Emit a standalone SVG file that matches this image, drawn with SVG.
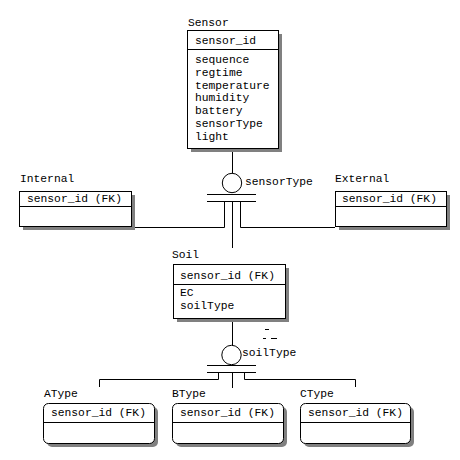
<svg xmlns="http://www.w3.org/2000/svg" width="460" height="460" viewBox="0 0 460 460">
<style>
text{font-family:"Liberation Mono","DejaVu Sans Mono",monospace;font-size:11.3px;fill:#000}
.box{fill:#fff;stroke:#000;stroke-width:1}
.sh{fill:#808080;stroke:none}
.ln{stroke:#000;stroke-width:1;fill:none}
</style>
<rect width="460" height="460" fill="#fff"/>
<g id="connectors">
<line class="ln" x1="232.5" y1="148" x2="232.5" y2="173"/>
<circle class="ln" cx="232" cy="183" r="9.7"/>
<line class="ln" x1="207" y1="194.5" x2="256" y2="194.5"/>
<line class="ln" x1="207" y1="201.5" x2="256" y2="201.5"/>
<polyline class="ln" points="224.5,202 224.5,227.5 131,227.5"/>
<polyline class="ln" points="240.5,202 240.5,227.5 335,227.5"/>
<line class="ln" x1="232.5" y1="202" x2="232.5" y2="248"/>
<line class="ln" x1="232.5" y1="318" x2="232.5" y2="345"/>
<circle class="ln" cx="231.5" cy="355" r="9.7"/>
<line class="ln" x1="207" y1="365.5" x2="256" y2="365.5"/>
<line class="ln" x1="207" y1="372.5" x2="256" y2="372.5"/>
<polyline class="ln" points="218.5,373 218.5,379.5 99.5,379.5 99.5,387"/>
<polyline class="ln" points="244.5,373 244.5,379.5 355.5,379.5 355.5,387"/>
<line class="ln" x1="232.5" y1="373" x2="232.5" y2="388"/>
<text x="245" y="185">sensorType</text>
<text x="242" y="356">soilType</text>
<line class="ln" x1="265" y1="329.5" x2="269" y2="329.5"/>
<line class="ln" x1="263" y1="338.5" x2="266" y2="338.5"/>
<line class="ln" x1="271" y1="338.5" x2="277" y2="338.5"/>
</g>
<g id="Sensor">
<text x="188" y="26">Sensor</text>
<rect class="sh" x="191" y="34" width="91" height="118"/>
<rect class="box" x="187.5" y="30.5" width="91" height="118"/>
<line class="ln" x1="187.5" y1="49.5" x2="278.5" y2="49.5"/>
<text x="195" y="44">sensor_id</text>
<text x="195" y="63">sequence</text>
<text x="195" y="76">regtime</text>
<text x="195" y="89">temperature</text>
<text x="195" y="101">humidity</text>
<text x="195" y="114">battery</text>
<text x="195" y="127">sensorType</text>
<text x="195" y="140">light</text>
</g>
<g id="Internal">
<text x="20" y="182">Internal</text>
<rect class="sh" x="23" y="195" width="112" height="35"/>
<rect class="box" x="19.5" y="191.5" width="112" height="35"/>
<line class="ln" x1="19.5" y1="206.5" x2="131.5" y2="206.5"/>
<text x="27" y="202">sensor_id (FK)</text>
</g>
<g id="External">
<text x="335" y="182">External</text>
<rect class="sh" x="339" y="195" width="111" height="35"/>
<rect class="box" x="335.5" y="191.5" width="111" height="35"/>
<line class="ln" x1="335.5" y1="206.5" x2="446.5" y2="206.5"/>
<text x="342" y="202">sensor_id (FK)</text>
</g>
<g id="Soil">
<text x="172" y="258">Soil</text>
<rect class="sh" x="177" y="268" width="112" height="54"/>
<rect class="box" x="173.5" y="264.5" width="112" height="54"/>
<line class="ln" x1="173.5" y1="284.5" x2="285.5" y2="284.5"/>
<text x="180" y="279">sensor_id (FK)</text>
<text x="180" y="296">EC</text>
<text x="180" y="309">soilType</text>
</g>
<g id="AType">
<text x="44" y="397">AType</text>
<rect class="sh" x="47" y="407" width="111" height="40" rx="5"/>
<rect class="box" x="43.5" y="403.5" width="111" height="40" rx="5"/>
<line class="ln" x1="43.5" y1="422.5" x2="154.5" y2="422.5"/>
<text x="51" y="416">sensor_id (FK)</text>
</g>
<g id="BType">
<text x="172" y="397">BType</text>
<rect class="sh" x="176" y="407" width="111" height="40" rx="5"/>
<rect class="box" x="172.5" y="403.5" width="111" height="40" rx="5"/>
<line class="ln" x1="172.5" y1="422.5" x2="283.5" y2="422.5"/>
<text x="180" y="416">sensor_id (FK)</text>
</g>
<g id="CType">
<text x="300" y="397">CType</text>
<rect class="sh" x="304" y="407" width="110" height="40" rx="5"/>
<rect class="box" x="300.5" y="403.5" width="110" height="40" rx="5"/>
<line class="ln" x1="300.5" y1="422.5" x2="410.5" y2="422.5"/>
<text x="308" y="416">sensor_id (FK)</text>
</g>
</svg>
